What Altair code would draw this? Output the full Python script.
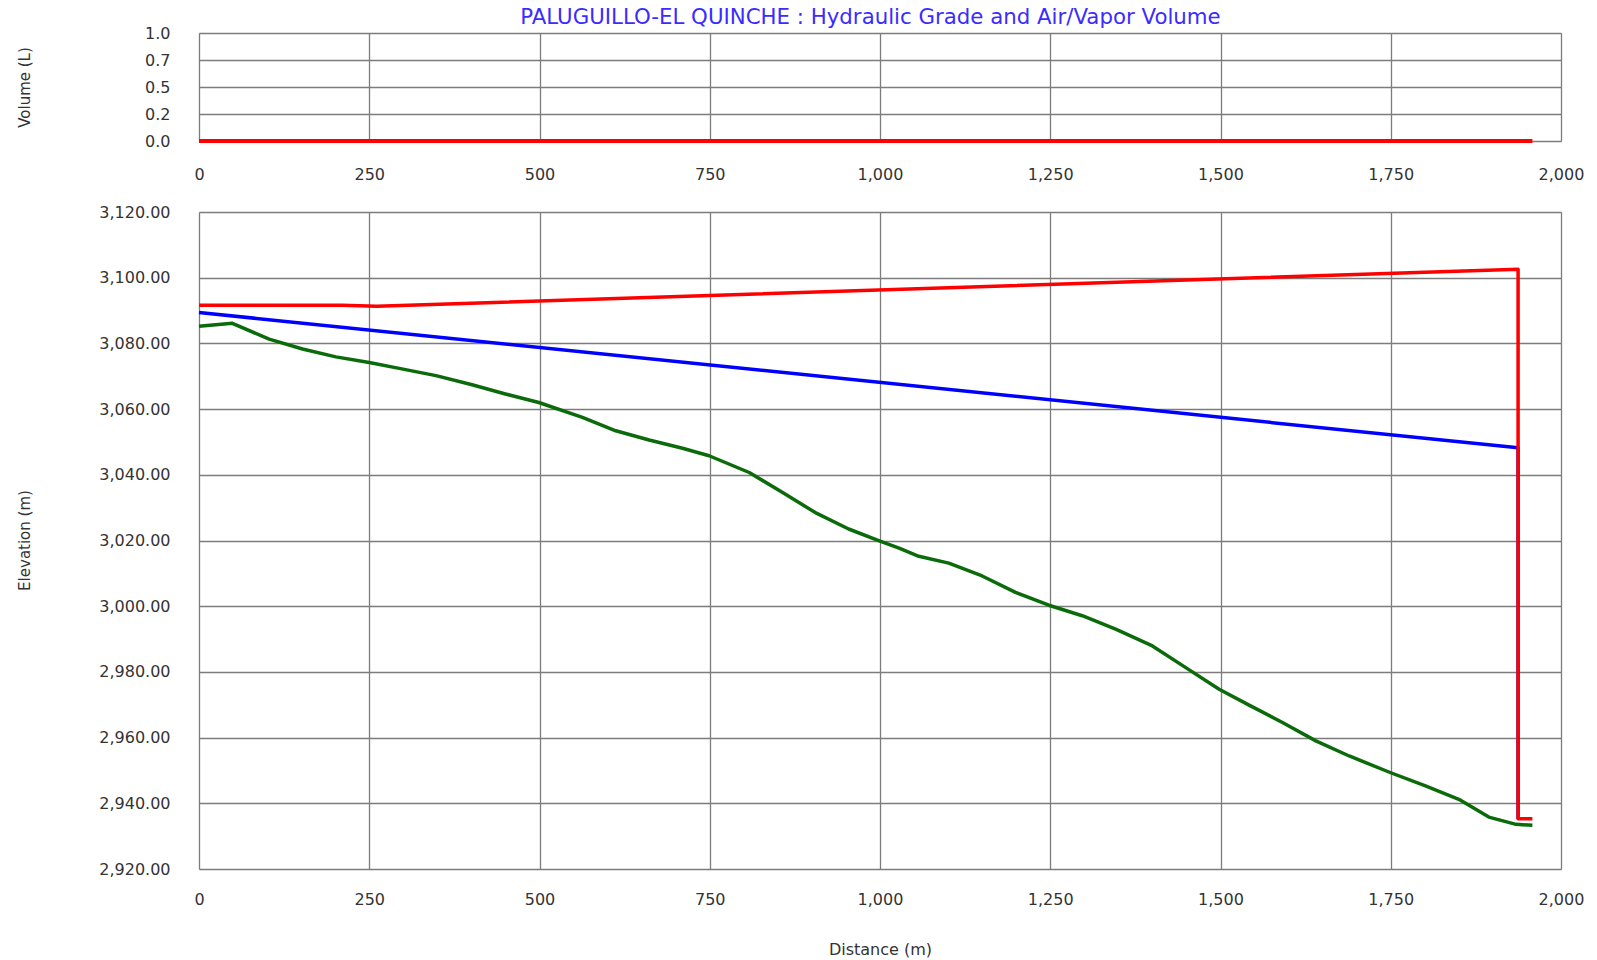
import altair as alt
import pandas as pd

# Profile of the PALUGUILLO-EL QUINCHE line: distance along pipe (m) vs elevation (m)
ground_dist = [0, 49, 103, 152, 201, 250, 294, 348, 401, 450, 499, 563, 612, 661, 710,
               749, 808, 857, 905, 954, 999, 1028, 1057, 1101, 1150, 1199, 1248, 1297,
               1346, 1400, 1449, 1498, 1542, 1591, 1640, 1689, 1750, 1801, 1850, 1894,
               1934, 1958]
ground_elev = [3085.2, 3086.1, 3081.3, 3078.3, 3075.9, 3074.2, 3072.4, 3070.2, 3067.4,
               3064.6, 3062.0, 3057.5, 3053.4, 3050.6, 3048.1, 3045.8, 3040.7, 3034.6,
               3028.5, 3023.5, 3019.9, 3017.7, 3015.2, 3013.1, 3009.2, 3004.2, 3000.3,
               2997.1, 2993.0, 2987.9, 2981.3, 2974.7, 2969.9, 2964.6, 2959.0, 2954.4,
               2949.3, 2945.3, 2941.2, 2935.8, 2933.6, 2933.3]

# Minimum hydraulic grade (blue)
hgl_min_dist = [0, 1937, 1937]
hgl_min_elev = [3089.4, 3048.2, 2935.3]

# Maximum hydraulic grade (red)
hgl_max_dist = [0, 210, 261, 1937, 1937, 1958]
hgl_max_elev = [3091.6, 3091.6, 3091.3, 3102.6, 2935.3, 2935.3]

# Air/vapour volume along the line (L)
vol_dist = [0, 1958]
vol_litres = [0.0, 0.0]

dist_ticks = [0, 250, 500, 750, 1000, 1250, 1500, 1750, 2000]
elev_ticks = [2920, 2940, 2960, 2980, 3000, 3020, 3040, 3060, 3080, 3100, 3120]
vol_ticks = [0.0, 0.25, 0.5, 0.75, 1.0]


def frame(name, xs, ys, order):
    return pd.DataFrame({"dist": xs, "elev": ys, "series": name,
                         "layer": order, "idx": range(len(xs))})


profile = pd.concat([
    frame("Ground", ground_dist, ground_elev, 0),
    frame("HGL min", hgl_min_dist, hgl_min_elev, 1),
    frame("HGL max", hgl_max_dist, hgl_max_elev, 2),
])
volume = pd.DataFrame({"dist": vol_dist, "vol": vol_litres, "idx": [0, 1]})

GRID = "#7c7c7c"
TXT = "#333333"
FONT = "DejaVu Sans"
W = 1362

x_common = dict(grid=True, gridColor=GRID, gridWidth=1.3, domain=False, ticks=False,
                labelFont=FONT, labelFontSize=16, labelColor=TXT, format=",d",
                labelFlush=False)

top = alt.Chart(volume).mark_line(color="#ff0000", strokeWidth=3.8).encode(
    x=alt.X("dist:Q", scale=alt.Scale(domain=[0, 2000], nice=False),
            axis=alt.Axis(values=dist_ticks, labelPadding=25, title=None, **x_common)),
    y=alt.Y("vol:Q", scale=alt.Scale(domain=[0, 1], nice=False),
            axis=alt.Axis(values=vol_ticks, grid=True, gridColor=GRID, gridWidth=1.3,
                          domain=False, ticks=False, labelFont=FONT, labelFontSize=16,
                          labelColor=TXT, labelPadding=29, labelFlush=False,
                          labelExpr="format(floor(datum.value*10)/10, '.1f')",
                          title="Volume (L)", titleFont=FONT, titleFontSize=15,
                          titleFontWeight="normal", titleColor=TXT, titleX=-175,
                          titleY=54, titleAngle=-90, titleBaseline="middle")),
    order="idx:Q",
).properties(width=W, height=108)

bottom = alt.Chart(profile).mark_line(strokeWidth=3.5, strokeJoin="round").encode(
    x=alt.X("dist:Q", scale=alt.Scale(domain=[0, 2000], nice=False),
            axis=alt.Axis(values=dist_ticks, labelPadding=22, title="Distance (m)",
                          titleFont=FONT, titleFontSize=16, titleFontWeight="normal",
                          titleColor=TXT, titleY=80, titleBaseline="middle", **x_common)),
    y=alt.Y("elev:Q", scale=alt.Scale(domain=[2920, 3120], nice=False, zero=False),
            axis=alt.Axis(values=elev_ticks, format=",.2f", grid=True, gridColor=GRID,
                          gridWidth=1.3, domain=False, ticks=False, labelFont=FONT,
                          labelFontSize=16, labelColor=TXT, labelPadding=29,
                          labelFlush=False,
                          title="Elevation (m)", titleFont=FONT, titleFontSize=15,
                          titleFontWeight="normal", titleColor=TXT, titleX=-175,
                          titleY=328, titleAngle=-90, titleBaseline="middle")),
    color=alt.Color("series:N",
                    scale=alt.Scale(domain=["Ground", "HGL min", "HGL max"],
                                    range=["#0b6b0b", "#0000ff", "#ff0000"]),
                    legend=None),
    detail="series:N",
    order="idx:Q",
).properties(width=W, height=657)

chart = alt.vconcat(top, bottom, spacing=20).properties(
    title=alt.TitleParams("PALUGUILLO-EL QUINCHE : Hydraulic Grade and Air/Vapor Volume",
                          font=FONT, fontSize=21.3, fontWeight="normal", color="#3b2bff",
                          anchor="middle", offset=-4, dx=70),
    padding={"left": 16, "top": 7, "right": 4, "bottom": 2},
).configure_view(stroke=None).configure(background="white")

chart.save("out.html", embed_options={"renderer": "svg", "actions": False})
